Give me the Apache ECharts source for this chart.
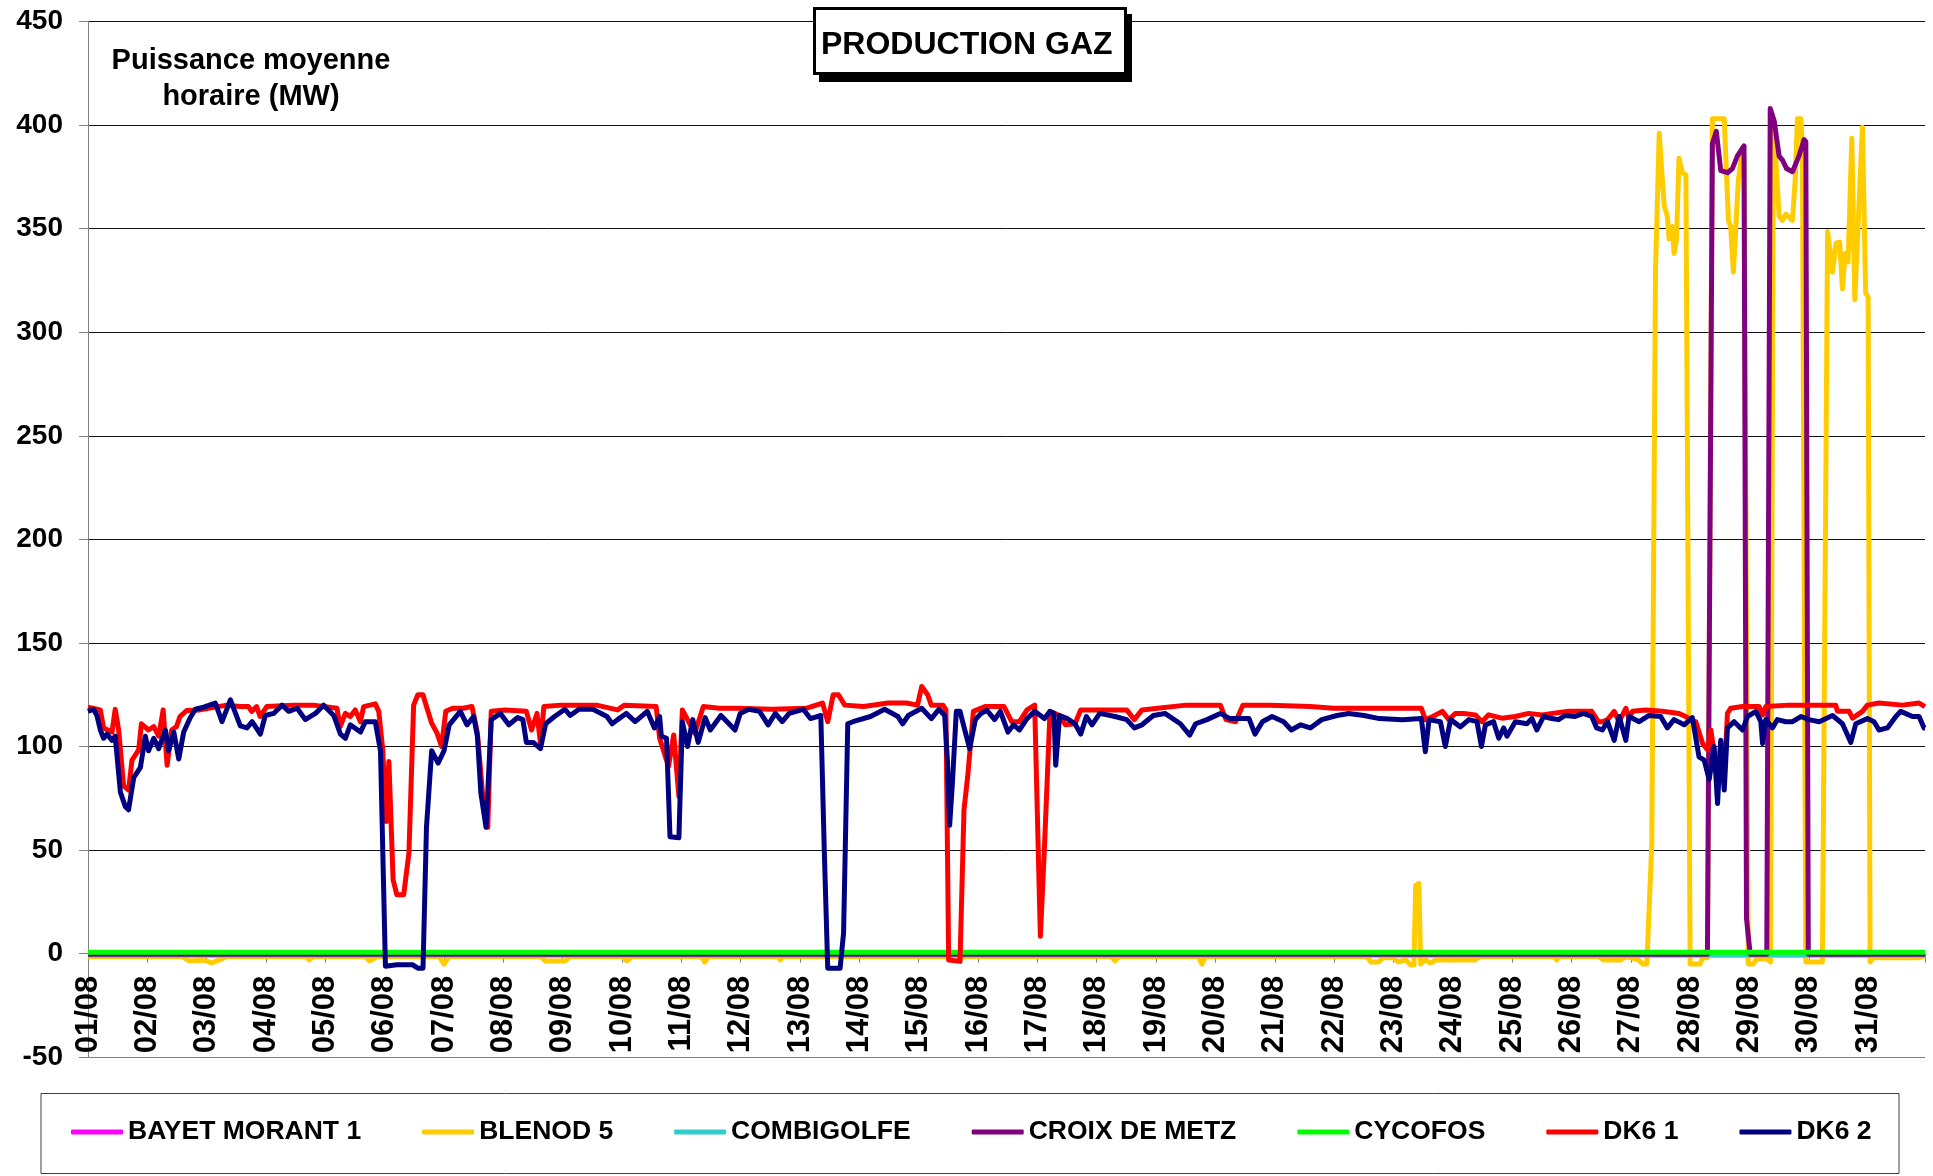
<!DOCTYPE html>
<html><head><meta charset="utf-8">
<script src="https://cdn.jsdelivr.net/npm/echarts@6/dist/echarts.min.js"></script>
<style>html,body{margin:0;padding:0;background:#fff}#c{width:1933px;height:1176px}</style>
</head><body><div id="c"></div>
<script>
// Day tick labels (one per 24 hours)
const dayLabels = ['01/08','02/08','03/08','04/08','05/08','06/08','07/08','08/08','09/08','10/08',
  '11/08','12/08','13/08','14/08','15/08','16/08','17/08','18/08','19/08','20/08',
  '21/08','22/08','23/08','24/08','25/08','26/08','27/08','28/08','29/08','30/08','31/08'];

const seriesNames = ['BAYET MORANT 1','BLENOD 5','COMBIGOLFE','CROIX DE METZ','CYCOFOS','DK6 1','DK6 2'];
const seriesColors = ['#FF00FF','#FFCC00','#33CCCC','#800080','#00FF00','#FF0000','#000080'];

// [hour of month, MW]
const bayetMorant1 = [[0,-0.5],[743,-0.5]];
const combigolfe = [[0,-0.6],[743,-0.6]];
const cycofos = [[0,0.7],[743,0.7]];

const blenod5 = [[0,-1.3],[38,-1.3],[41,-3.5],[47,-3],[50,-4.5],[54,-2.5],[56,-1.3],[88,-1.3],[89.5,-3],[91,-1.3],
  [112,-1.3],[114,-3.5],[117,-1.3],[142,-1.3],[144,-5],[146,-1.3],[183,-1.3],[185,-3.5],[193,-3.5],[195,-1.3],
  [216,-1.3],[218,-3.5],[220,-1.3],[248,-1.3],[249.5,-4],[251,-1.3],[279,-1.3],[280,-3],[281,-1.3],
  [414,-1.3],[415.4,-3.5],[417,-1.3],[449,-1.3],[450.6,-5],[452,-1.3],[517,-1.3],[519,-4],[522,-4],[524,-1.8],
  [528,-2],[530,-4],[533,-3],[535,-5.5],[536.3,-5.5],[537,33],[538.3,34],[539,-5],[541,-3],[543,-4.5],[545,-3],
  [561,-3],[563,-1.3],[593,-1.3],[594,-3],[595,-1.3],[611,-1.3],[613,-3],[620,-3],[622,-1.3],[627,-3],[629,-5],
  [630.5,-5],[632.5,53],[634,330],[635.5,396],[637.5,361],[638.8,356],[639.5,345],[640.9,351],[641.5,338],
  [642.5,345],[643.5,384],[644.9,377],[646.3,376],[648,-5],[652,-5],[653,-2],[655,-2],[657,403],[661.8,403],
  [662.7,377],[663.5,354],[664.4,351],[665.5,329],[666.5,351],[667.5,373.5],[669.2,389],[669.8,384],[671.5,-5],
  [673.5,-5],[675,-2.5],[679,-2.5],[680.5,-4],[681.7,403],[682.5,403],[684,356],[685.3,354],[686.7,357],
  [689.4,354],[690.5,373.5],[691.4,403],[692.8,403],[693.4,389.6],[694.8,-4],[701.5,-4],[703.6,348.6],
  [705.6,329],[707,343],[708.5,343.5],[709.6,321],[710.7,338],[711.9,334],[713.4,393.6],[714.6,315.7],
  [717.7,399],[719,319],[720,317],[720.8,-4],[722,-2],[740,-2],[743,-1]];

const croixDeMetz = [[0,-0.2],[655,-0.2],[657,391],[658.6,397],[660.4,378],[663.1,377],[665.1,379],[667.1,385],
  [669.8,390],[670.8,17],[672.3,-0.2],[679,-0.2],[680.4,408],[682,402],[684,385],[685.4,383],[687,379],
  [689.4,377.5],[692,385],[694.1,393],[694.8,392],[695.8,-0.2],[743,-0.2]];

const dk61 = [[0,119],[5,117.7],[6.3,109],[9.7,107],[11,118],[12.4,108],[14.4,81],[16.4,79],[17.8,93.5],[20.5,98.4],
  [21.6,111],[24.5,108],[26.6,109.6],[28.6,105],[30.4,117.7],[32,91],[33.8,108],[35.8,109.6],[37.2,114.5],
  [39.9,117.4],[45.3,117.7],[56.1,120],[61.5,119.3],[64.9,119.3],[66.2,117],[68.2,119.3],[69.6,114.5],[72.3,119.3],
  [83.1,120],[91.2,120],[100.7,118.5],[102,109.6],[104.1,116],[106.1,114.5],[108.1,117.7],[110.2,112],[111.5,119.3],
  [116.2,120.6],[117.6,117],[119.2,98.4],[120.6,63.8],[121.7,92.8],[123.4,35.7],[124.9,28.5],[127.7,28.5],
  [129.8,48.6],[131.7,120],[133.4,125],[135.5,125],[136.9,119.3],[139,111.3],[141.2,106.4],[143,100],[144.7,117],
  [147.5,118.5],[151.8,118.5],[155.3,119.3],[157.5,106.4],[159.6,77],[161.7,61],[163.1,117],[168.8,117.7],
  [177.3,117],[179.4,108],[181.6,116],[183,101.6],[184.4,119.3],[191.5,120],[205.7,120],[214.2,117.7],[217,120],
  [229.8,119.3],[231.2,104],[234.8,90.4],[236.9,105.6],[239,75.9],[240.4,117.7],[245.4,106.4],[248.9,119.3],
  [255.3,118.5],[262.4,118.5],[276.6,118],[290.7,118.5],[297.1,121],[299.2,112],[301.4,125],[303.5,125],
  [306.1,120],[313.7,119.3],[323.6,121],[331,121],[335.5,120],[337.2,129],[339.6,125],[341.1,120],[345.8,120],
  [347,117.7],[348.1,-3],[352.7,-3.7],[354.3,69.5],[355.8,85.5],[358.1,117],[362.8,119.3],[370.5,119.3],
  [373.6,112],[376.7,112],[379.8,117.7],[382.9,120],[385.2,8.4],[386.8,50],[389.1,117],[393,115],[395.3,110.5],
  [399.2,111],[401.5,117.7],[420.1,117.7],[423.2,113],[426.3,117.7],[444.1,120],[458,120],[460.3,113],
  [464.2,112],[467.1,120],[478,120],[494.4,119.3],[503.7,118.5],[539.3,118.5],[540.9,113],[543.9,114.5],
  [547.8,117],[550.4,113],[553.1,116],[556.4,116],[561.1,115.3],[563.8,112],[566.5,115.3],[571.9,113.7],
  [577.3,114.5],[582.7,116],[588,115.3],[598.8,117],[608.2,117],[610.9,112],[612.5,112],[614.6,113],[617.3,117],
  [619.3,112],[622,118.5],[623.3,113.7],[624.7,117],[630,117.7],[636.8,117],[643.5,116],[646.2,114.5],
  [648.3,113],[650.3,112],[653,101.6],[655,98.4],[656.4,108],[657.7,97],[659.1,85.5],[660.4,102.4],[661.8,85.5],
  [663.1,116],[664.4,118.5],[669.2,119.3],[675.9,119.3],[677.3,115.3],[678.6,119.3],[688,120],[706.9,120],
  [707.6,117],[712.3,117],[713.7,113.7],[717.7,117],[719.7,120],[724.4,121],[733.9,120],[740.6,121],[743,119.3]];

const dk62 = [[0,117],[2.3,118],[3.6,115],[5,108],[6.3,104],[7.7,106],[9.7,103],[11,105],[13.1,78],[15.1,71],
  [16.4,69.5],[18.5,85],[21.2,90],[23.2,105],[24.5,98],[26.6,104],[28.6,99],[31.3,108],[32.6,98],[34.7,107],
  [36.7,94],[38.7,107],[41.4,114],[43.4,118],[46.8,119],[51.5,121],[54.2,112],[57.6,122.5],[61.6,110],[64.3,109],
  [66.4,112],[69.7,106],[71.7,115],[75.1,116],[78.5,120],[81.2,117],[84.6,118.5],[87.9,113],[92,116],[95.3,120],
  [99.4,115],[102.1,106],[104.1,104],[106.1,110.5],[110.2,107],[112.2,112],[116.2,112],[118.3,98],[120.3,-6],
  [124.9,-5.3],[131.2,-5.3],[133.4,-7],[135.5,-7],[136.9,61],[139,98],[141.6,92],[144,98],[146.1,110.5],
  [150.6,117],[153.3,110.5],[156,114.5],[157.5,105],[158.9,77.5],[161,61],[161.7,61],[163.1,113],[166.8,116],
  [170.2,110.5],[173.8,114],[175.9,113],[177.3,102],[180.1,102],[183,99],[185.1,111],[188.7,114.5],[192.9,118],
  [195,115],[198.6,118],[204.2,118],[209.9,114.5],[212,111],[214.2,113],[217.7,116],[221.3,112],[226.2,117],
  [229.1,109],[231.2,114.5],[231.9,105],[234,104],[235.4,56.5],[239,56],[240.4,112],[242.5,100],[244.6,113],
  [246.8,102],[249.6,114],[251.7,108],[256,115],[261.7,108],[263.8,116],[267.3,118],[271.6,117],[275.1,110.5],
  [278,116],[280.8,112],[283.6,116],[289.3,118],[292.2,113.5],[296.4,115],[297.8,50],[299.2,-7],[304.2,-7],
  [305.6,10],[307.3,111],[309.4,112],[316.5,114.5],[322.2,118],[327.6,114.5],[329.5,111],[331.8,115],
  [337.2,118.5],[341.1,113.5],[344.2,118],[346.5,115],[347.6,93.5],[348.5,62],[349.6,82],[351.2,117],
  [352.7,117],[354.3,109.5],[356.6,99],[358.9,113],[361.2,116],[363.6,117.5],[366.7,113],[369,117],[372.1,107],
  [374.4,110.5],[376.7,108],[379.8,113.5],[382.9,117],[386.8,113.5],[389.1,117],[390.7,116],[391.4,91],[393,115],
  [396.1,113.5],[399.2,111],[401.5,106],[403.8,114.5],[406.1,110.5],[409.2,116],[415.4,114.5],[420.1,113],
  [423.2,109],[426.3,110.5],[430.9,115],[435.6,116],[441.8,111],[445.6,105.5],[448,111],[452.6,113],[458,116],
  [461.9,113.5],[469.6,113.5],[472,106],[475,112],[478.9,114.5],[483.6,112],[486.7,108],[490.5,110.5],
  [494.4,109],[499,113],[505.2,115],[509.9,116],[516.1,115],[522.3,113.5],[531.6,113],[539.3,113.5],[540.9,97.5],
  [542.4,113],[547,112],[549,100],[551.1,113],[555.1,109.5],[558.5,113],[561.8,112],[563.6,100],[565.2,110.5],
  [568.5,112],[570.6,104],[572.6,109],[573.9,105],[577.3,112],[582,111],[584,113.5],[586,108],[588.7,114.5],
  [592,113.5],[594.8,113],[597.4,115],[601.5,114.5],[604.8,116],[608.2,114.5],[610.2,109],[612.5,108],
  [614.6,112],[617.3,103],[619.3,114.5],[622,103],[623.3,114.5],[627.4,112],[631.4,115],[636.1,114.5],
  [638.8,109],[641.5,113],[645.6,110.5],[648.9,114],[651.6,95],[653.7,93.5],[655.7,84],[657.7,100],[659.1,72.5],
  [660.4,103],[661.8,79],[663.1,109],[665.8,112],[669.2,108],[671.2,114.5],[674.6,117],[676.6,112],[677.3,101.5],
  [678.6,113],[681.3,109],[683.3,113],[686.7,112],[689.4,112],[692.8,114.5],[696.1,113],[700.2,112],[705.6,115],
  [709.6,111],[713,102],[715,111],[719.7,113.5],[722.4,112],[724.4,108],[727.8,109],[731.2,114.5],[733.2,117],
  [737.9,114.5],[740.6,114.5],[742.6,109],[743,109]];

const seriesData = [bayetMorant1, blenod5, combigolfe, croixDeMetz, cycofos, dk61, dk62];

const FONT = "'Liberation Sans', Arial, sans-serif";
const chart = echarts.init(document.getElementById('c'), null, {renderer: 'canvas'});

const gridLineColors = ['#808080','#111','#111','#111','#111','#111','#111','#111','#111','#111','#111'];
// y range and where the category axis crosses it
const yMin = -50, yMax = 450, yStep = 50, xAxisCrossValue = 0;
const gridTop = 21.5, gridBottom = 118.7;
const plotHeight = 1176 - gridTop - gridBottom;
const axisShift = -plotHeight * (xAxisCrossValue - yMin) / (yMax - yMin);

chart.setOption({
  animation: false,
  backgroundColor: '#ffffff',
  title: [
    {text: 'PRODUCTION GAZ', left: 821, top: 25, padding: 0, z: 10,
     textStyle: {fontFamily: FONT, fontSize: 32, fontWeight: 'bold', color: '#000', lineHeight: 40}},
    {text: 'Puissance moyenne\nhoraire (MW)', left: 251, top: 43, padding: 0, textAlign: 'center',
     textStyle: {fontFamily: FONT, fontSize: 29, fontWeight: 'bold', color: '#000', lineHeight: 36}}
  ],
  graphic: [
    {type: 'rect', z: 1, shape: {x: 819, y: 14, width: 313, height: 68},
     style: {fill: '#000', stroke: null}},
    {type: 'rect', z: 2, shape: {x: 814.5, y: 8.5, width: 311, height: 65},
     style: {fill: '#fff', stroke: '#000', lineWidth: 3}},
    {type: 'rect', z: 2, shape: {x: 41, y: 1093.5, width: 1858, height: 80},
     style: {fill: 'none', stroke: '#404040', lineWidth: 1}}
  ],
  legend: {
    data: seriesNames, left: 71, top: 1117, padding: 0, itemGap: 61,
    itemWidth: 52, itemHeight: 5, icon: 'roundRect',
    textStyle: {fontFamily: FONT, fontSize: 26.5, fontWeight: 'bold', color: '#000', lineHeight: 30}
  },
  grid: {left: 88, right: 8, top: gridTop, bottom: gridBottom, containLabel: false},
  xAxis: {
    type: 'value', min: 0, max: 743, interval: 24, position: 'bottom', offset: axisShift,
    axisLine: {show: true, onZero: false, lineStyle: {color: '#808080', width: 1}},
    axisTick: {show: true, length: 9, inside: false, lineStyle: {color: '#808080'}},
    splitLine: {show: false},
    axisLabel: {
      rotate: 90, margin: 22, fontFamily: FONT, fontSize: 31, fontWeight: 'bold', color: '#000',
      showMinLabel: true, showMaxLabel: true, hideOverlap: false,
      formatter: function (v) {
        if (Math.abs(v % 24) > 1e-6) return '';
        const i = Math.round(v / 24);
        return i < dayLabels.length ? dayLabels[i] : '';
      }
    }
  },
  yAxis: {
    type: 'value', min: yMin, max: yMax, interval: yStep,
    axisLine: {show: true, lineStyle: {color: '#808080', width: 1}},
    axisTick: {show: true, length: 9, inside: false, lineStyle: {color: '#808080'}},
    splitLine: {show: true, lineStyle: {color: gridLineColors, width: 1}},
    axisLabel: {margin: 25, fontFamily: FONT, fontSize: 28, fontWeight: 'bold', color: '#000'}
  },
  series: seriesNames.map(function (name, i) {
    return {
      name: name, type: 'line', data: seriesData[i],
      showSymbol: false, symbol: 'none', smooth: false,
      lineStyle: {width: 5, color: seriesColors[i], join: 'round'},
      itemStyle: {color: seriesColors[i]},
      emphasis: {disabled: true}
    };
  })
});
</script>
</body></html>
